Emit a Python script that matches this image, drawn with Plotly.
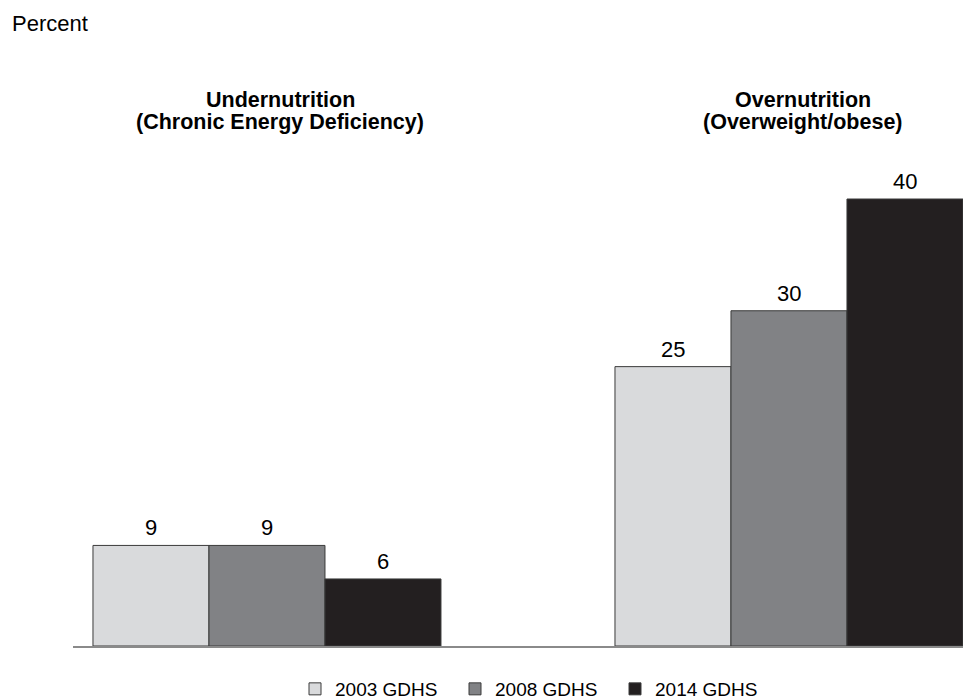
import plotly.graph_objects as go

categories = ["Undernutrition", "Overnutrition"]
title_line1 = ["Undernutrition", "Overnutrition"]
title_line2 = ["(Chronic Energy Deficiency)", "(Overweight/obese)"]
series_names = ["2003 GDHS", "2008 GDHS", "2014 GDHS"]
values_2003 = [9, 25]
values_2008 = [9, 30]
values_2014 = [6, 40]
series_values = [values_2003, values_2008, values_2014]
colors = ["#D9DADC", "#818285", "#231F20"]

FONT = "Liberation Sans, Arial, sans-serif"

# page body has an 8px default margin: work in figure coordinates = screen - 8
OFF = 8
W, H = 971 - OFF, 699 - OFF
L, R = 73 - OFF, 0
BASE = 646 - OFF
T = 60
B = H - BASE
plot_h = H - T - B
plot_w = W - L - R
PX_PER_UNIT = 11.175
BAR_W = 116

def py(screen_y):
    return (BASE - (screen_y - OFF)) / plot_h

def px(screen_x):
    return ((screen_x - OFF) - L) / plot_w

fig = go.Figure()
for name, vals, col in zip(series_names, series_values, colors):
    fig.add_trace(go.Bar(
        x=categories, y=vals, name=name,
        marker=dict(color=col, line=dict(color="#3a3a3a", width=1)),
        cliponaxis=False, hoverinfo="skip",
    ))

annotations = []
# value labels above bars
for j, vals in enumerate(series_values):
    for i, v in enumerate(vals):
        annotations.append(dict(x=categories[i], xref="x", y=v, yref="y", text=str(v),
                                showarrow=False, xanchor="center", yanchor="bottom",
                                xshift=(j - 1) * BAR_W, yshift=3,
                                font=dict(family=FONT, size=22, color="#000000")))
# group titles
title_x = [280, 803]
for i in range(len(categories)):
    annotations.append(dict(x=px(title_x[i]), xref="paper", y=py(99.5), yref="paper",
                            text="<b>%s</b>" % title_line1[i],
                            showarrow=False, xanchor="center", yanchor="middle",
                            font=dict(family=FONT, size=21.5, color="#000000")))
    annotations.append(dict(x=px(title_x[i]), xref="paper", y=py(122), yref="paper",
                            text="<b>%s</b>" % title_line2[i],
                            showarrow=False, xanchor="center", yanchor="middle",
                            font=dict(family=FONT, size=21.5, color="#000000")))
annotations.append(dict(x=px(10), xref="paper", y=py(23), yref="paper", text="Percent",
                        showarrow=False, xanchor="left", yanchor="middle",
                        font=dict(family=FONT, size=22, color="#000000")))

fig.update_layout(
    width=W, height=H,
    margin=dict(l=L, r=R, t=T, b=B, autoexpand=False),
    plot_bgcolor="white", paper_bgcolor="white",
    barmode="group", bargap=1 - 3 * BAR_W / 522, bargroupgap=0,
    xaxis=dict(type="category", range=[-0.3716, 1.3487], showticklabels=False, ticks="",
               showline=True, linecolor="#8a8a8a", linewidth=2, showgrid=False, zeroline=False,
               fixedrange=True),
    yaxis=dict(range=[0, plot_h / PX_PER_UNIT], visible=False, showgrid=False, zeroline=False,
               fixedrange=True),
    showlegend=True,
    legend=dict(orientation="h", x=px(315 - 20), xanchor="left", y=py(689), yanchor="middle",
                entrywidth=115, entrywidthmode="pixels",
                font=dict(family=FONT, size=19, color="#000000"), bgcolor="rgba(0,0,0,0)",
                traceorder="normal", itemclick=False, itemdoubleclick=False),
    annotations=annotations,
    font=dict(family=FONT),
)

fig.write_html("out.html")
